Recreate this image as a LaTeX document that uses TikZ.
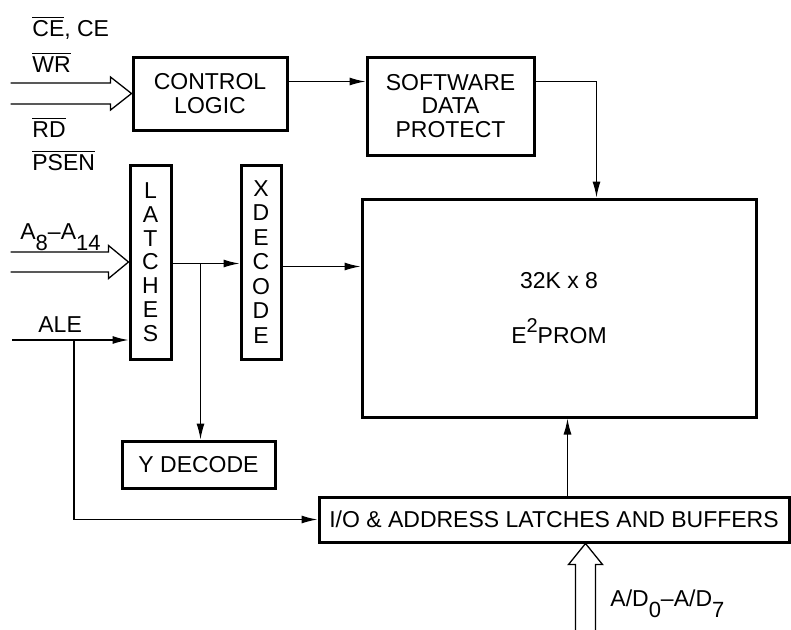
\documentclass[tikz,border=0pt]{standalone}
\usepackage{fontspec}
\setmainfont{Liberation Sans}
\usetikzlibrary{arrows.meta}
\usetikzlibrary{calc}
\usetikzlibrary{positioning}

\newcommand{\negsig}[1]{$\overline{\mbox{#1}}$}
\newcommand{\lowidx}[1]{\raisebox{-5.5pt}{\fontsize{11}{11}\selectfont #1}}
\newcommand{\highidx}[1]{\raisebox{5.5pt}{\fontsize{10}{10}\selectfont #1}}

\begin{document}
\begin{tikzpicture}[x=0.5pt, y=-0.5pt, font=\fontsize{11.5}{11.75}\selectfont,
    block/.style={draw, line width=1.5pt, inner sep=0pt, align=center},
    wire/.style={line width=0.65pt, -{Latex[length=8pt,width=4pt]}},
    bus/.style={line width=0.65pt, line join=miter},
    sig/.style={anchor=base west, inner sep=0pt}]

    \useasboundingbox (0,0) rectangle (791,629);

    % Blocks
    \node[block, minimum width=77pt, minimum height=36.5pt] (ctrl) at (210,93.5) {CONTROL\\LOGIC};
    \node[block, minimum width=83.5pt, minimum height=49pt] (sdp) at (450.5,106) {SOFTWARE\\DATA\\PROTECT};
    \node[block, minimum width=197pt, minimum height=109pt] (mem) at (559,308)
        {32K x 8\\[13.5pt]E\highidx{2}PROM};
    \node[block, minimum width=20.5pt, minimum height=97pt, font=\fontsize{11.5}{11.9}\selectfont]
        (latch) at (150.5,262) {L\\A\\T\\C\\H\\E\\S};
    \node[block, minimum width=20pt, minimum height=97pt, font=\fontsize{11.5}{12.25}\selectfont]
        (xdec) at (261,262) {X\\D\\E\\C\\O\\D\\E};
    \node[block, minimum width=76.5pt, minimum height=23.5pt] (ydec) at (198.5,464.5) {Y DECODE};
    \node[block, minimum width=235pt, minimum height=22.5pt] (io) at (554,519.5)
        {I/O \& ADDRESS LATCHES AND BUFFERS};

    % Signal names
    \node[sig] (cesig) at (32,36) {\negsig{CE}, CE};
    \node[sig] (wrsig) at (32,72) {\negsig{WR}};
    \node[sig] (rdsig) at (32,137) {\negsig{RD}};
    \node[sig] (psensig) at (32,170) {\negsig{PSEN}};
    \node[sig] (addrsig) at (20,239) {A\lowidx{8}--A\lowidx{14}};
    \node[sig] (alesig) at (38,332) {ALE};
    \node[sig] (adsig) at (610,606) {A/D\lowidx{0}--A/D\lowidx{7}};

    % Buses
    \draw[bus] ($(ctrl.west)+(-121,-10.5)$) -- ++(100,0) -- ++(0,-6) -- (ctrl.west)
        -- ++(-21,16.5) -- ++(0,-6) -- ++(-100,0);
    \draw[bus] ($(latch.west)+(-118,-10)$) -- ++(98,0) -- ++(0,-6.5) -- (latch.west)
        -- ++(-20,16.5) -- ++(0,-6.5) -- ++(-98,0);
    \coordinate (adtip) at ($(io.south west)+(268,0)$);
    \draw[bus] ($(adtip)+(-10,87)$) -- ++(0,-66) -- ++(-7,0) -- (adtip)
        -- ++(17,21) -- ++(-7,0) -- ++(0,66);

    % Connectors
    \draw[wire] ($(ctrl.north east)+(0,26)$) -- ($(sdp.north west)+(0,26)$);
    \draw[wire] ($(sdp.north east)+(0,26)$) -| ($(mem.north west)+(236,0)$);
    \draw[wire] ($(latch.north east)+(0,100)$) -- ($(xdec.north west)+(0,100)$);
    \coordinate (split) at ($(latch.north east)+(28,100)$);
    \draw[wire] (split) -- (split |- ydec.north);
    \draw[wire] ($(xdec.north east)+(0,103)$) coordinate (xout) -- (xout -| mem.west);
    \coordinate (ale) at (12,340);
    \draw[wire] (ale) -- (ale -| latch.west);
    \coordinate (aledrop) at (74,340);
    \draw[wire] (aledrop) |- (io.west);
    \draw[wire] ($(io.north west)+(250,0)$) coordinate (ioup) -- (ioup |- mem.south);
\end{tikzpicture}
\end{document}
